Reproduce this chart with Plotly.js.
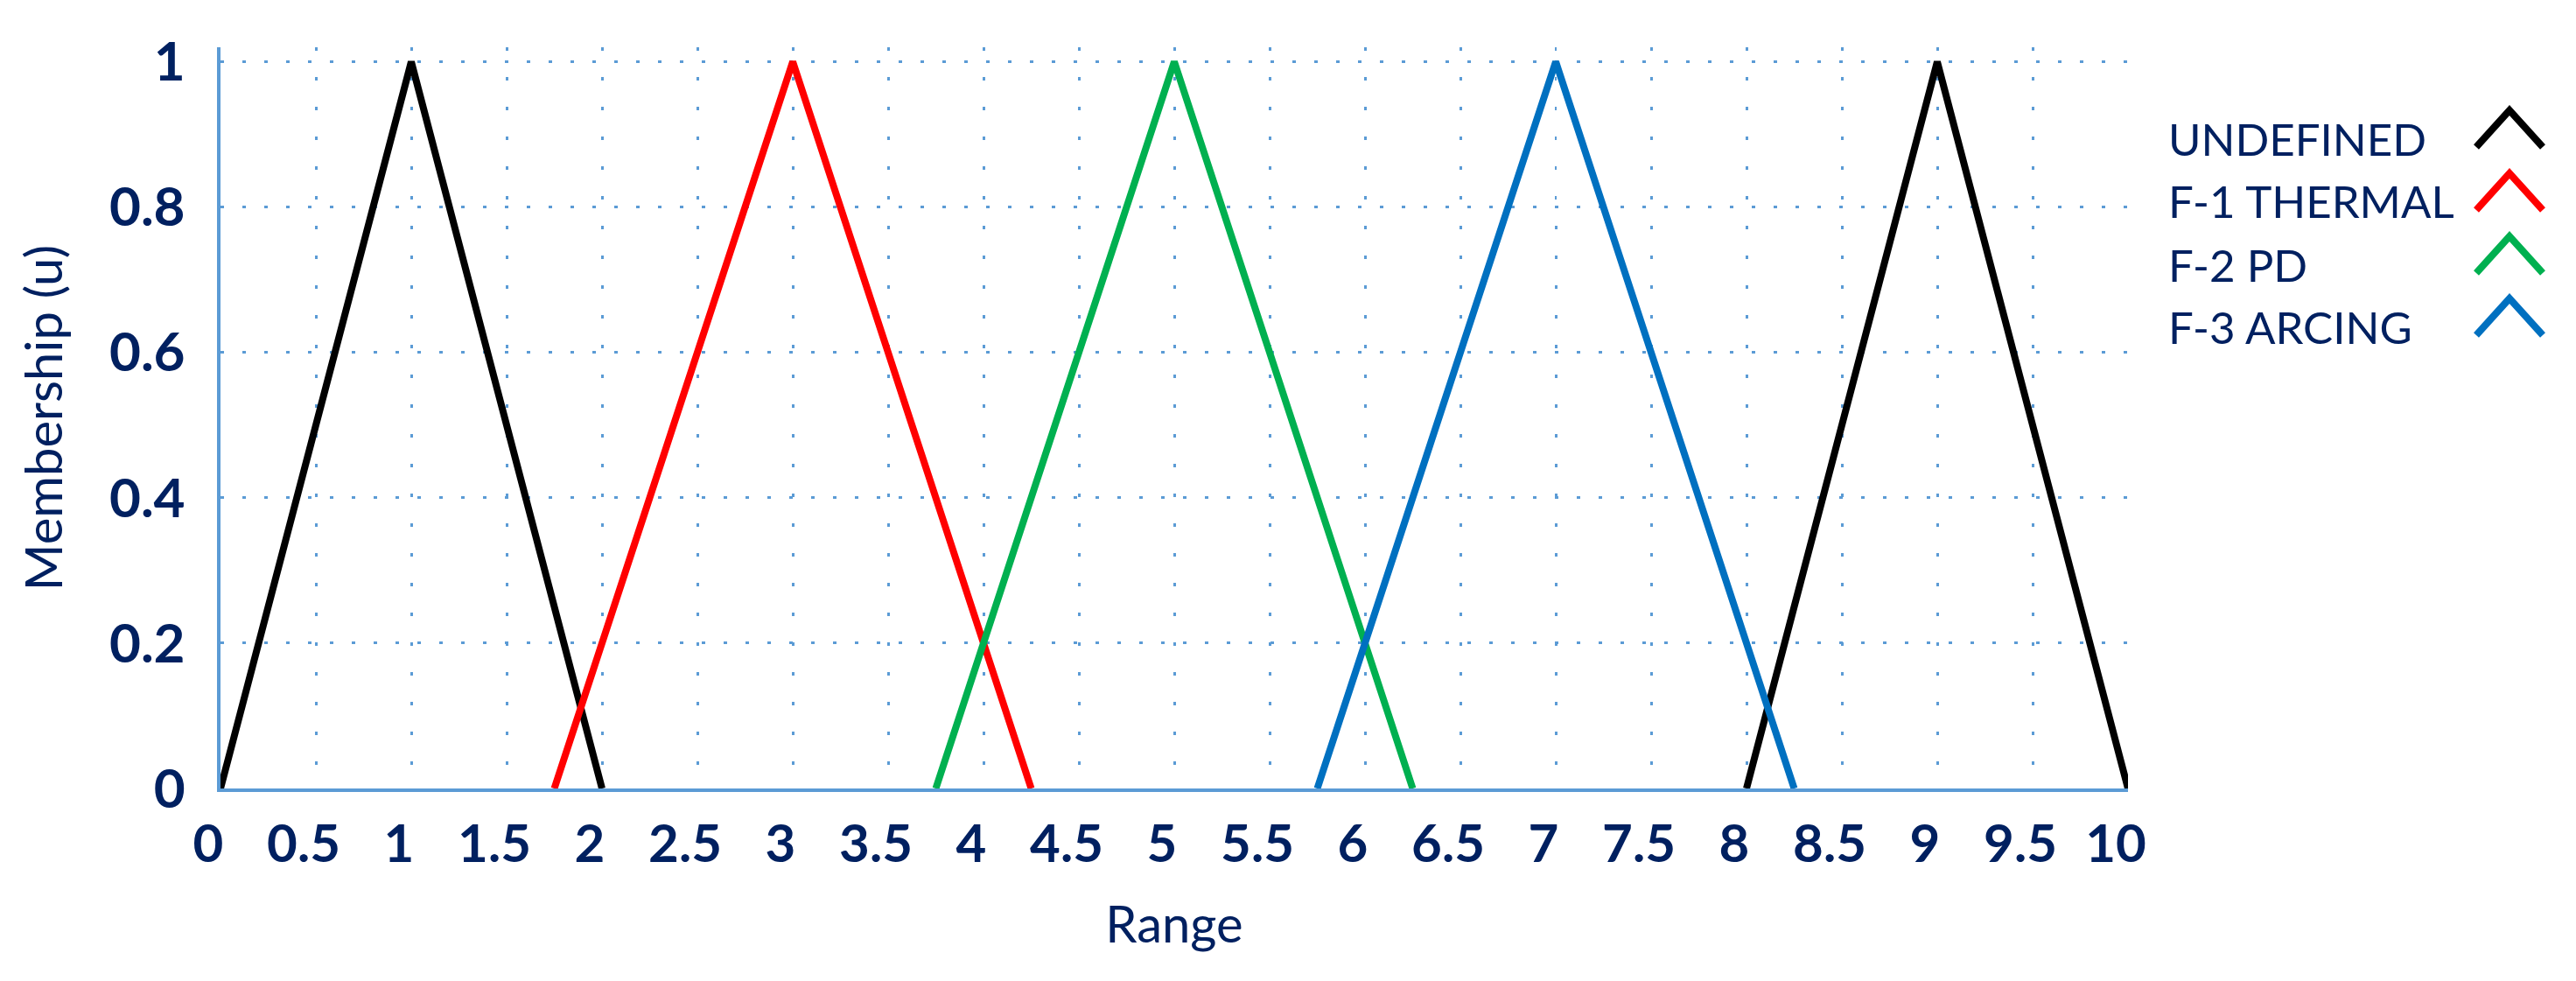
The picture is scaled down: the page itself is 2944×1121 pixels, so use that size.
<!DOCTYPE html>
<html>
<head>
<meta charset="utf-8">
<script src="https://cdn.plot.ly/plotly-3.0.1.min.js"></script>
<style>html,body{margin:0;padding:0;background:#fff;}#chart{width:2944px;height:1121px;}</style>
</head>
<body>
<div id="chart"></div>
<script>
// ---- data ----
const seriesNames = ['UNDEFINED', 'F-1 THERMAL', 'F-2 PD', 'F-3 ARCING'];
const seriesColors = ['#000000', '#FF0000', '#00B050', '#0070C0'];
const undefinedX = [0, 1, 2, null, 8, 9, 10];
const undefinedY = [0, 1, 0, null, 0, 1, 0];
const thermalX = [1.75, 3, 4.25];
const thermalY = [0, 1, 0];
const pdX = [3.75, 5, 6.25];
const pdY = [0, 1, 0];
const arcingX = [5.75, 7, 8.25];
const arcingY = [0, 1, 0];
const xTitle = 'Range';
const yTitle = 'Membership (u)';

// ---- layout constants ----
const W = 2944, H = 1121;
const M = {l: 252, r: 512, t: 54, b: 220};
const plotW = W - M.l - M.r, plotH = H - M.t - M.b;
const px2x = p => (p - M.l) / plotW;
const py2y = p => (H - M.b - p) / plotH;
const navy = '#002060';
const gridBlue = '#5B9BD5';
const fontFam = 'Lato, "Open Sans", sans-serif';

const xs = [undefinedX, thermalX, pdX, arcingX];
const ys = [undefinedY, thermalY, pdY, arcingY];
const traces = seriesNames.map((n, i) => ({
  type: 'scatter', mode: 'lines', name: n,
  x: xs[i], y: ys[i], connectgaps: false, cliponaxis: false,
  line: {color: seriesColors[i], width: 8},
  showlegend: false, hoverinfo: 'skip'
}));

// custom legend (text on the left, chevron glyph on the right)
const annotations = [];
const shapes = [];
const legendRows = [158, 230, 302, 373];
seriesNames.forEach((n, i) => {
  const cy = legendRows[i];
  annotations.push({
    xref: 'paper', yref: 'paper', x: px2x(2476), y: py2y(cy),
    xanchor: 'left', yanchor: 'middle', showarrow: false,
    text: n, font: {family: fontFam, size: 51, color: navy}
  });
  const cx = 2868, hw = 38;
  const p = 'M ' + px2x(cx - hw) + ',' + py2y(cy + 10) +
            ' L ' + px2x(cx) + ',' + py2y(cy - 32) +
            ' L ' + px2x(cx + hw) + ',' + py2y(cy + 10);
  shapes.push({type: 'path', xref: 'paper', yref: 'paper', path: p,
               line: {color: seriesColors[i], width: 8}});
});

const layout = {
  width: W, height: H,
  margin: M,
  paper_bgcolor: '#ffffff', plot_bgcolor: '#ffffff',
  showlegend: false,
  font: {family: fontFam, color: navy},
  xaxis: {
    range: [0, 10], dtick: 0.5, tick0: 0,
    showline: true, linecolor: gridBlue, linewidth: 4,
    showgrid: true, gridcolor: gridBlue, gridwidth: 3, griddash: '4px,30px',
    zeroline: false, ticks: '',
    ticklabelstandoff: 8, ticklabelshift: -14,
    tickfont: {family: fontFam, size: 60, color: navy, weight: 'bold'},
    title: {text: xTitle, standoff: 40, font: {family: fontFam, size: 58, color: navy}}
  },
  yaxis: {
    range: [0, 1.02], dtick: 0.2, tick0: 0,
    showline: true, linecolor: gridBlue, linewidth: 4,
    showgrid: true, gridcolor: gridBlue, gridwidth: 3, griddash: '4px,21px',
    zeroline: false, ticks: '',
    ticklabelstandoff: 24,
    tickfont: {family: fontFam, size: 62, color: navy, weight: 'bold'},
    title: {text: yTitle, standoff: 36, font: {family: fontFam, size: 58, color: navy}}
  },
  annotations: annotations,
  shapes: shapes
};

Plotly.newPlot('chart', traces, layout, {staticPlot: true, displayModeBar: false});
</script>
</body>
</html>
